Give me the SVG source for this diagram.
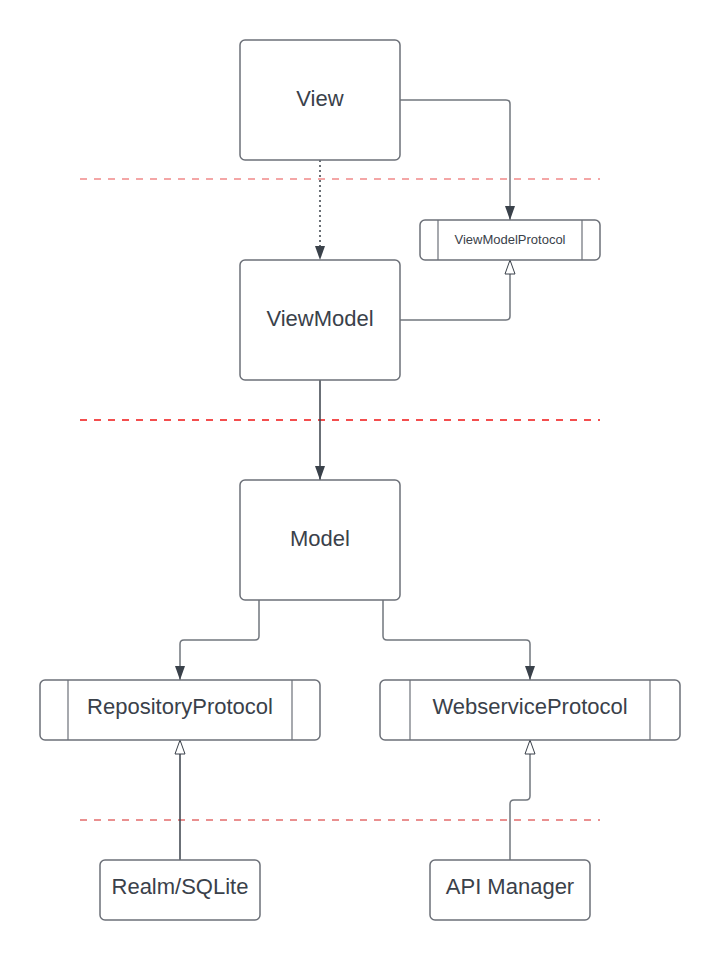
<svg xmlns="http://www.w3.org/2000/svg" width="720" height="960" viewBox="0 0 720 960">
<style>
.box{fill:#ffffff;stroke:#6c7078;stroke-width:1.5}
.sep{fill:none;stroke:#6c7078;stroke-width:1.2}
.lbl{font-family:"Liberation Sans",Arial,sans-serif;font-size:22px;fill:#3a414a;text-anchor:middle}
.small{font-size:13px}
.conn{fill:none;stroke:#72777e;stroke-width:1.5}
.dark{stroke:#3a414a}
.dot{stroke-dasharray:2 3;stroke:#3a414a}
.layer{fill:none;stroke-dasharray:7 7}
</style>
<defs>
<marker id="arrow" viewBox="0 0 14 10" refX="14" refY="5" markerWidth="14" markerHeight="10" markerUnits="userSpaceOnUse" orient="auto">
<path d="M0,0 L14,5 L0,10 z" fill="#3a414a"/>
</marker>
<marker id="hollow" viewBox="-1 -1 16 12" refX="14" refY="5" markerWidth="16" markerHeight="12" markerUnits="userSpaceOnUse" orient="auto">
<path d="M0,0 L14,5 L0,10 z" fill="#ffffff" stroke="#3a414a" stroke-width="1"/>
</marker>
</defs>

<g id="layers">
<line class="layer" x1="80" y1="179" x2="600" y2="179" stroke="#f4a6a6" stroke-width="2"/>
<line class="layer" x1="80" y1="420" x2="600" y2="420" stroke="#f01515" stroke-width="1.5"/>
<line class="layer" x1="80" y1="820" x2="600" y2="820" stroke="#d42020" stroke-width="1"/>
</g>

<g id="connectors">
<path class="conn" d="M400,100 H506 Q510,100 510,104 V220" marker-end="url(#arrow)"/>
<path class="conn dot" d="M320,160 V260" marker-end="url(#arrow)"/>
<path class="conn" d="M400,320 H506 Q510,320 510,316 V260" marker-end="url(#hollow)"/>
<path class="conn dark" d="M320,380 V480" marker-end="url(#arrow)"/>
<path class="conn" d="M259,600 V636 Q259,640 255,640 H184 Q180,640 180,644 V680" marker-end="url(#arrow)"/>
<path class="conn" d="M383,600 V636 Q383,640 387,640 H526 Q530,640 530,644 V680" marker-end="url(#arrow)"/>
<path class="conn dark" stroke-width="1" d="M180,860 V740" marker-end="url(#hollow)"/>
<path class="conn" d="M510,860 V804 Q510,800 514,800 H526 Q530,800 530,796 V740" marker-end="url(#hollow)"/>
</g>

<g id="view">
<rect class="box" x="240" y="40" width="160" height="120" rx="5"/>
<text class="lbl" x="320" y="106">View</text>
</g>
<g id="viewModelProtocol">
<rect class="box" x="420" y="220" width="180" height="40" rx="5"/>
<line class="sep" x1="438" y1="220" x2="438" y2="260"/>
<line class="sep" x1="582" y1="220" x2="582" y2="260"/>
<text class="lbl small" x="510" y="244">ViewModelProtocol</text>
</g>
<g id="viewModel">
<rect class="box" x="240" y="260" width="160" height="120" rx="5"/>
<text class="lbl" x="320" y="326">ViewModel</text>
</g>
<g id="model">
<rect class="box" x="240" y="480" width="160" height="120" rx="5"/>
<text class="lbl" x="320" y="546">Model</text>
</g>
<g id="repositoryProtocol">
<rect class="box" x="40" y="680" width="280" height="60" rx="5"/>
<line class="sep" x1="68" y1="680" x2="68" y2="740"/>
<line class="sep" x1="292" y1="680" x2="292" y2="740"/>
<text class="lbl" x="180" y="714">RepositoryProtocol</text>
</g>
<g id="webserviceProtocol">
<rect class="box" x="380" y="680" width="300" height="60" rx="5"/>
<line class="sep" x1="410" y1="680" x2="410" y2="740"/>
<line class="sep" x1="650" y1="680" x2="650" y2="740"/>
<text class="lbl" x="530" y="714">WebserviceProtocol</text>
</g>
<g id="realmSQLite">
<rect class="box" x="100" y="860" width="160" height="60" rx="5"/>
<text class="lbl" x="180" y="894">Realm/SQLite</text>
</g>
<g id="apiManager">
<rect class="box" x="430" y="860" width="160" height="60" rx="5"/>
<text class="lbl" x="510" y="894">API Manager</text>
</g>
</svg>
